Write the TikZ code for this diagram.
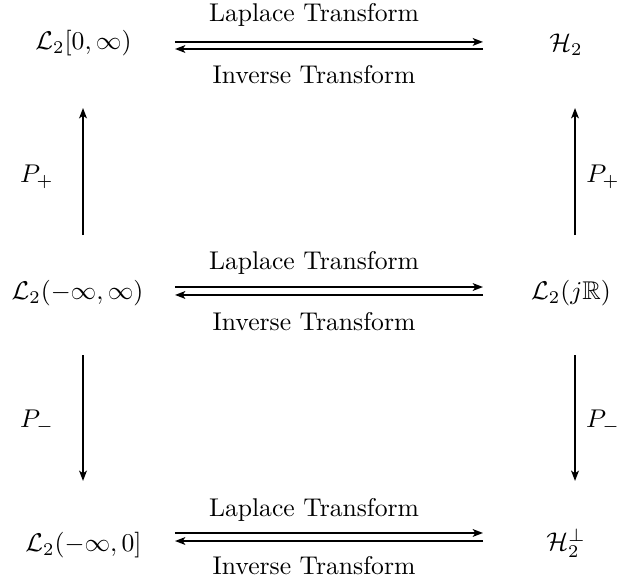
\documentclass[tikz,border=0pt]{standalone}
\usepackage{amsmath,amsfonts,amssymb}
\usepackage{tikz}
\usetikzlibrary{arrows.meta, positioning}

\begin{document}
\begin{tikzpicture}[
    space/.style={
        inner sep=2pt,
        font=\normalsize
    },
    lbl/.style={
        inner sep=1pt,
        font=\normalsize
    },
    maparrow/.style={
        thick,
        -{Stealth[length=4pt, width=3pt, inset=1pt]}
    }
]

    % Frame of the picture
    \useasboundingbox (0, 0) rectangle (8.486, 7.938);

    % Function spaces (left column: time domain)
    \node[space] (pos) at (1.145, 7.349) {$\mathcal{L}_2[0,\infty)$};
    \node[space] (all) at (1.063, 3.921) {$\mathcal{L}_2(-\infty,\infty)$};
    \node[space] (neg) at (1.145, 0.466) {$\mathcal{L}_2(-\infty,0]$};

    % Function spaces (right column: frequency domain)
    \node[space] (h2) at (7.760, 7.321) {$\mathcal{H}_2$};
    \node[space] (ljr) at (7.828, 3.921) {$\mathcal{L}_2(j\mathbb{R})$};
    \node[space] (h2perp) at (7.760, 0.494) {$\mathcal{H}_2^{\perp}$};

    % Ends of the transform arrows
    \coordinate (topL1) at (2.399, 7.363);  \coordinate (topR1) at (6.622, 7.363);
    \coordinate (topL2) at (2.399, 7.266);  \coordinate (topR2) at (6.622, 7.266);
    \coordinate (midL1) at (2.399, 4.003);  \coordinate (midR1) at (6.622, 4.003);
    \coordinate (midL2) at (2.399, 3.894);  \coordinate (midR2) at (6.622, 3.894);
    \coordinate (botL1) at (2.399, 0.631);  \coordinate (botR1) at (6.622, 0.631);
    \coordinate (botL2) at (2.399, 0.521);  \coordinate (botR2) at (6.622, 0.521);

    % Ends of the projection arrows
    \coordinate (lupA) at (1.138, 4.716);   \coordinate (lupB) at (1.138, 6.457);
    \coordinate (rupA) at (7.883, 4.716);   \coordinate (rupB) at (7.883, 6.457);
    \coordinate (ldnA) at (1.138, 3.071);   \coordinate (ldnB) at (1.138, 1.344);
    \coordinate (rdnA) at (7.883, 3.071);   \coordinate (rdnB) at (7.883, 1.344);

    % Transform labels
    \node[lbl] (lapTop) at (4.305, 7.732) {Laplace Transform};
    \node[lbl] (invTop) at (4.305, 6.910) {Inverse Transform};
    \node[lbl] (lapMid) at (4.305, 4.332) {Laplace Transform};
    \node[lbl] (invMid) at (4.305, 3.523) {Inverse Transform};
    \node[lbl] (lapBot) at (4.305, 0.946) {Laplace Transform};
    \node[lbl] (invBot) at (4.305, 0.178) {Inverse Transform};

    % Projection labels
    \node[lbl] (pL1) at (0.507, 5.511) {$P_+$};
    \node[lbl] (pR1) at (8.267, 5.511) {$P_+$};
    \node[lbl] (mL1) at (0.507, 2.152) {$P_-$};
    \node[lbl] (mR1) at (8.267, 2.152) {$P_-$};

    % Connections

    % Laplace / inverse pairs
    \draw[maparrow] (topL1) -- (topR1);
    \draw[maparrow] (topR2) -- (topL2);
    \draw[maparrow] (midL1) -- (midR1);
    \draw[maparrow] (midR2) -- (midL2);
    \draw[maparrow] (botL1) -- (botR1);
    \draw[maparrow] (botR2) -- (botL2);

    % Projections
    \draw[maparrow] (lupA) -- (lupB);
    \draw[maparrow] (rupA) -- (rupB);
    \draw[maparrow] (ldnA) -- (ldnB);
    \draw[maparrow] (rdnA) -- (rdnB);

\end{tikzpicture}
\end{document}
